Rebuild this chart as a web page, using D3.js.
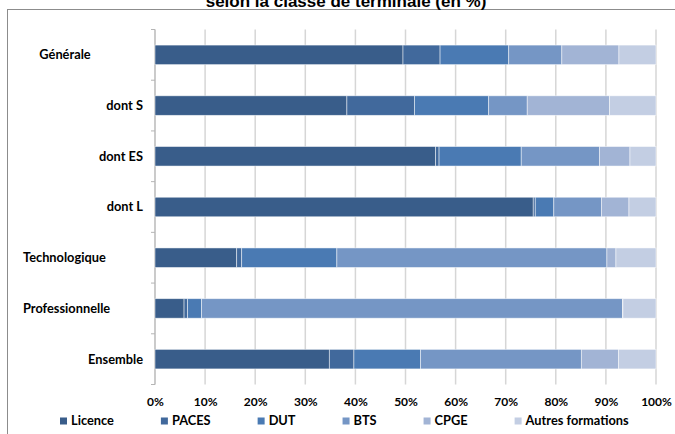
<!DOCTYPE html>
<html>
<head>
<meta charset="utf-8">
<script src="https://cdn.jsdelivr.net/npm/d3@7"></script>
<style>
  body { margin: 0; background: #fff; }
  text { font-family: Lato, "Open Sans", sans-serif; font-weight: bold; fill: #000; }
</style>
</head>
<body>
<div id="chart"></div>
<script>
// Categories (rows) and series (formations), values in %
var classes = ["Générale", "dont S", "dont ES", "dont L", "Technologique", "Professionnelle", "Ensemble"];
var formations = ["Licence", "PACES", "DUT", "BTS", "CPGE", "Autres formations"];

var licence = [49.5, 38.3, 56.0, 75.5, 16.3, 5.8, 34.8];
var paces   = [7.4, 13.5, 0.7, 0.4, 1.0, 0.7, 4.9];
var dut     = [13.7, 14.8, 16.4, 3.7, 19.0, 2.8, 13.3];
var bts     = [10.6, 7.7, 15.6, 9.5, 53.9, 84.0, 32.1];
var cpge    = [11.4, 16.4, 6.1, 5.5, 1.8, 0.1, 7.4];
var autres  = [7.4, 9.3, 5.2, 5.4, 8.0, 6.6, 7.5];

var xTicks = [0, 10, 20, 30, 40, 50, 60, 70, 80, 90, 100];

var colors = ["#395d8a", "#41699c", "#4a7ab3", "#7596c5", "#a2b4d5", "#c3cee3"];

// build table for the stack
var rows = classes.map(function(c, i) {
    return {
        classe: c,
        "Licence": licence[i],
        "PACES": paces[i],
        "DUT": dut[i],
        "BTS": bts[i],
        "CPGE": cpge[i],
        "Autres formations": autres[i]
    };
});

var width = 675, height = 434;
var margin = {top: 29.5, right: 19, bottom: 49.5, left: 155};

var svg = d3.select("#chart").append("svg")
    .attr("width", width)
    .attr("height", height);

// frame of the chart area
svg.append("rect")
    .attr("x", 7.5)
    .attr("y", 9.5)
    .attr("width", 680)
    .attr("height", 440)
    .attr("fill", "none")
    .attr("stroke", "#8c8c8c")
    .attr("stroke-width", 1);

// title, cut at the top like the original
svg.append("text")
    .attr("x", 346)
    .attr("y", 7)
    .attr("text-anchor", "middle")
    .style("font-family", "'Liberation Sans', Arial, sans-serif")
    .style("font-size", "17px")
    .text("selon la classe de terminale (en %)");

var x = d3.scaleLinear()
    .domain([0, 100])
    .range([margin.left, width - margin.right]);

var y = d3.scaleBand()
    .domain(classes)
    .range([margin.top, height - margin.bottom])
    .paddingInner(0.615)
    .paddingOuter(0.3075);

// gridlines
svg.append("g")
    .selectAll("line")
    .data(xTicks)
    .enter()
    .append("line")
    .attr("x1", d => x(d))
    .attr("x2", d => x(d))
    .attr("y1", margin.top)
    .attr("y2", height - margin.bottom)
    .attr("stroke", "#d6d6d6")
    .attr("stroke-width", 1.5);

// x axis labels
var xAxis = d3.axisBottom(x)
    .tickValues(xTicks)
    .tickFormat(d => d + "%")
    .tickSize(0)
    .tickPadding(13);

var xg = svg.append("g")
    .attr("transform", "translate(0," + (height - margin.bottom) + ")")
    .call(xAxis);
xg.select(".domain").remove();
xg.selectAll("text")
    .style("font-size", "12px")
    .style("font-family", "Lato, sans-serif")
    .style("font-weight", "bold");

// y axis line + ticks at band boundaries
var yTop = margin.top, yBot = height - margin.bottom;
var step = y.step();
svg.append("line")
    .attr("x1", x(0)).attr("x2", x(0))
    .attr("y1", yTop).attr("y2", yBot)
    .attr("stroke", "#b5b5b5")
    .attr("stroke-width", 1);

svg.append("g")
    .selectAll("line")
    .data(d3.range(classes.length + 1))
    .enter()
    .append("line")
    .attr("x1", x(0) - 4)
    .attr("x2", x(0))
    .attr("y1", d => yTop + d * step)
    .attr("y2", d => yTop + d * step)
    .attr("stroke", "#b5b5b5")
    .attr("stroke-width", 1);

// y labels (alignment mimics the original export)
var labelPos = {
    "Générale": {x: 65, anchor: "middle"},
    "Technologique": {x: 23, anchor: "start"},
    "Professionnelle": {x: 23, anchor: "start"}
};
svg.append("g")
    .selectAll("text")
    .data(classes)
    .enter()
    .append("text")
    .attr("x", d => labelPos[d] ? labelPos[d].x : 143)
    .attr("y", d => y(d) + y.bandwidth() / 2)
    .attr("dy", "0.35em")
    .attr("text-anchor", d => labelPos[d] ? labelPos[d].anchor : "end")
    .style("font-size", "12.8px")
    .text(d => d);

// stacked bars
var stack = d3.stack().keys(formations);
var series = stack(rows);

var groups = svg.append("g")
    .selectAll("g")
    .data(series)
    .enter()
    .append("g")
    .attr("fill", (d, i) => colors[i]);

groups.selectAll("rect")
    .data(d => d)
    .enter()
    .append("rect")
    .attr("x", d => x(d[0]))
    .attr("y", d => y(d.data.classe))
    .attr("width", d => x(d[1]) - x(d[0]))
    .attr("height", y.bandwidth())
    .attr("stroke", "#ffffff")
    .attr("stroke-opacity", 0.6)
    .attr("stroke-width", 0.8);

// legend
var legend = svg.append("g")
    .attr("transform", "translate(60, 421)");

var lx = 0;
formations.forEach(function(f, i) {
    var item = legend.append("g").attr("transform", "translate(" + lx + ",0)");
    item.append("rect")
        .attr("x", 0)
        .attr("y", -3.5)
        .attr("width", 7)
        .attr("height", 7)
        .attr("fill", colors[i]);
    var t = item.append("text")
        .attr("x", 11)
        .attr("dy", "0.35em")
        .style("font-size", "12.8px")
        .text(f);
    lx += 11 + t.node().getComputedTextLength() + 47;
});
</script>
</body>
</html>
